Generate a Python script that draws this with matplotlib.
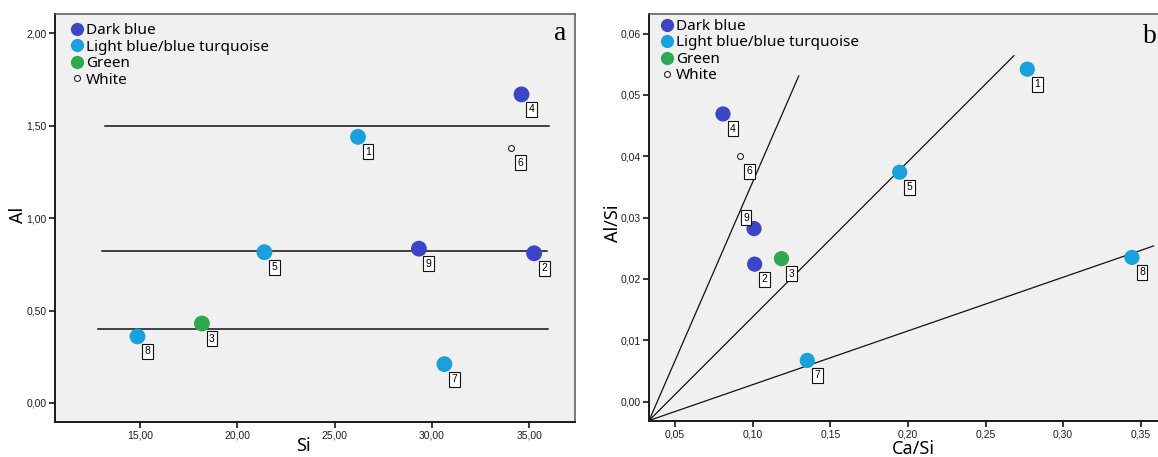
import numpy as np
import matplotlib
matplotlib.use("Agg")
import matplotlib.pyplot as plt
from matplotlib.lines import Line2D

# Sample data
sample_ids = [1, 2, 3, 4, 5, 6, 7, 8, 9]
colour_group = ["light", "dark", "green", "dark", "light", "white", "light", "light", "dark"]

si = [26.2, 35.25, 18.18, 34.6, 21.39, 34.05, 30.64, 14.87, 29.33]
al = [1.44, 0.81, 0.43, 1.67, 0.816, 1.38, 0.21, 0.36, 0.835]

ca_si = [0.2769, 0.1013, 0.1186, 0.0809, 0.1947, 0.0917, 0.1352, 0.3443, 0.1009]
al_si = [0.0542, 0.0224, 0.0233, 0.0469, 0.0374, 0.0400, 0.0067, 0.0235, 0.0282]

# horizontal reference lines in panel a (level, start, end)
hline_level = [1.50, 0.825, 0.40]
hline_start = [13.2, 13.05, 12.85]
hline_end = [36.0, 35.9, 35.95]

# sloped reference lines in panel b (start and end points)
sline_x0 = [0.0333, 0.0333, 0.0333]
sline_y0 = [-0.0031, -0.0031, -0.0031]
sline_x1 = [0.1297, 0.2683, 0.3582]
sline_y1 = [0.0531, 0.0564, 0.02537]

a_xticks = [15, 20, 25, 30, 35]
a_xticklabels = ["15,00", "20,00", "25,00", "30,00", "35,00"]
a_yticks = [0.0, 0.5, 1.0, 1.5, 2.0]
a_yticklabels = ["0,00", "0,50", "1,00", "1,50", "2,00"]
b_xticks = [0.05, 0.10, 0.15, 0.20, 0.25, 0.30, 0.35]
b_xticklabels = ["0,05", "0,10", "0,15", "0,20", "0,25", "0,30", "0,35"]
b_yticks = [0.00, 0.01, 0.02, 0.03, 0.04, 0.05, 0.06]
b_yticklabels = ["0,00", "0,01", "0,02", "0,03", "0,04", "0,05", "0,06"]

legend_names = {"dark": "Dark blue", "light": "Light blue/blue turquoise",
                "green": "Green", "white": "White"}
colours = {"dark": "#3b45c6", "light": "#1ba0de", "green": "#2fa84f", "white": "white"}

W, H = 1158, 457
fig = plt.figure(figsize=(W / 100, H / 100), dpi=100)
fig.patch.set_facecolor("white")


def axes_px(left, top, right, bottom):
    return fig.add_axes([left / W, 1 - bottom / H, (right - left) / W, (bottom - top) / H])


def style_axes(ax):
    ax.set_facecolor("#f0f0f0")
    for s in ("left", "bottom"):
        ax.spines[s].set_color("#1a1a1a")
        ax.spines[s].set_linewidth(1.4)
    for s in ("top", "right"):
        ax.spines[s].set_color("#555555")
        ax.spines[s].set_linewidth(1.1)
    ax.tick_params(direction="out", length=4.5, width=1.1, pad=1.5,
                   labelsize=7.5, labelcolor="#1e1e1e", top=False, right=False)


def draw_points(ax, xs, ys, size, label_offsets):
    for i, n in enumerate(sample_ids):
        g = colour_group[i]
        if g == "white":
            ax.scatter(xs[i], ys[i], s=18, facecolor="white", edgecolor="#222222",
                       linewidth=0.8, zorder=3)
        else:
            ax.scatter(xs[i], ys[i], s=size, color=colours[g], edgecolor="none", zorder=3)
        dx, dy = label_offsets.get(n, (10, -15))
        ax.annotate(str(n), (xs[i], ys[i]), xytext=(dx, dy), textcoords="offset pixels",
                    ha="center", va="center", fontsize=7.5, family="Liberation Sans",
                    bbox=dict(boxstyle="square,pad=0.24", fc="white", ec="#111111", lw=0.8),
                    zorder=4)


def add_legend(ax, x, y):
    handles = []
    for g in ("dark", "light", "green", "white"):
        if g == "white":
            h = Line2D([], [], ls="none", marker="o", markersize=4.3, mfc="white",
                       mec="#222222", mew=0.8)
        else:
            h = Line2D([], [], ls="none", marker="o", markersize=9.5, mfc=colours[g], mec="none")
        handles.append(h)
    ax.legend(handles, [legend_names[g] for g in ("dark", "light", "green", "white")],
              loc="upper left", bbox_to_anchor=(x, y), frameon=False, borderpad=0,
              borderaxespad=0, handlelength=0.8, handletextpad=0.2, labelspacing=0.1,
              prop={"family": "Noto Sans", "size": 11})


def finish_ticks(ax):
    for lab in ax.get_xticklabels() + ax.get_yticklabels():
        lab.set_family("Liberation Sans")


# ---- panel a ----
ax1 = axes_px(55, 14, 575, 422)
style_axes(ax1)
ax1.set_xlim(10.63, 37.35)
ax1.set_ylim(-0.103, 2.105)
ax1.set_xticks(a_xticks, a_xticklabels)
ax1.set_yticks(a_yticks, a_yticklabels)
for lvl, x0, x1 in zip(hline_level, hline_start, hline_end):
    ax1.plot([x0, x1], [lvl, lvl], color="#111111", lw=1.1, zorder=2)
draw_points(ax1, si, al, 130, {})
add_legend(ax1, 0.0305, 0.978)
ax1.set_xlabel("Si", family="Noto Sans", fontsize=13)
ax1.xaxis.set_label_coords(0.477, -0.059)
ax1.xaxis.label.set_va("center")
ax1.set_ylabel("Al", family="Noto Sans", fontsize=13)
ax1.yaxis.set_label_coords(-0.072, 0.507)
ax1.yaxis.label.set_va("center")
ax1.text(0.971, 0.936, "a", transform=ax1.transAxes, ha="center", va="baseline",
         family="Liberation Serif", fontsize=20)
finish_ticks(ax1)

# ---- panel b (right edge runs past the picture) ----
ax2 = axes_px(649, 14, 1170, 421)
style_axes(ax2)
ax2.set_xlim(0.03326, 0.3688)
ax2.set_ylim(-0.00318, 0.0632)
ax2.set_xticks(b_xticks, b_xticklabels)
ax2.set_yticks(b_yticks, b_yticklabels)
for x0, y0, x1, y1 in zip(sline_x0, sline_y0, sline_x1, sline_y1):
    ax2.plot([x0, x1], [y0, y1], color="#111111", lw=0.9, zorder=2)
draw_points(ax2, ca_si, al_si, 120, {9: (-8, 11)})
add_legend(ax2, 0.0222, 0.988)
ax2.set_xlabel("Ca/Si", family="Noto Sans", fontsize=13)
ax2.xaxis.set_label_coords(0.507, -0.069)
ax2.xaxis.label.set_va("center")
ax2.set_ylabel("Al/Si", family="Noto Sans", fontsize=13)
ax2.yaxis.set_label_coords(-0.069, 0.486)
ax2.yaxis.label.set_va("center")
ax2.text(0.948, 0.929, "b", transform=ax2.transAxes, ha="left", va="baseline",
         family="Liberation Serif", fontsize=20)
finish_ticks(ax2)

fig.savefig("out.png", dpi=100)
